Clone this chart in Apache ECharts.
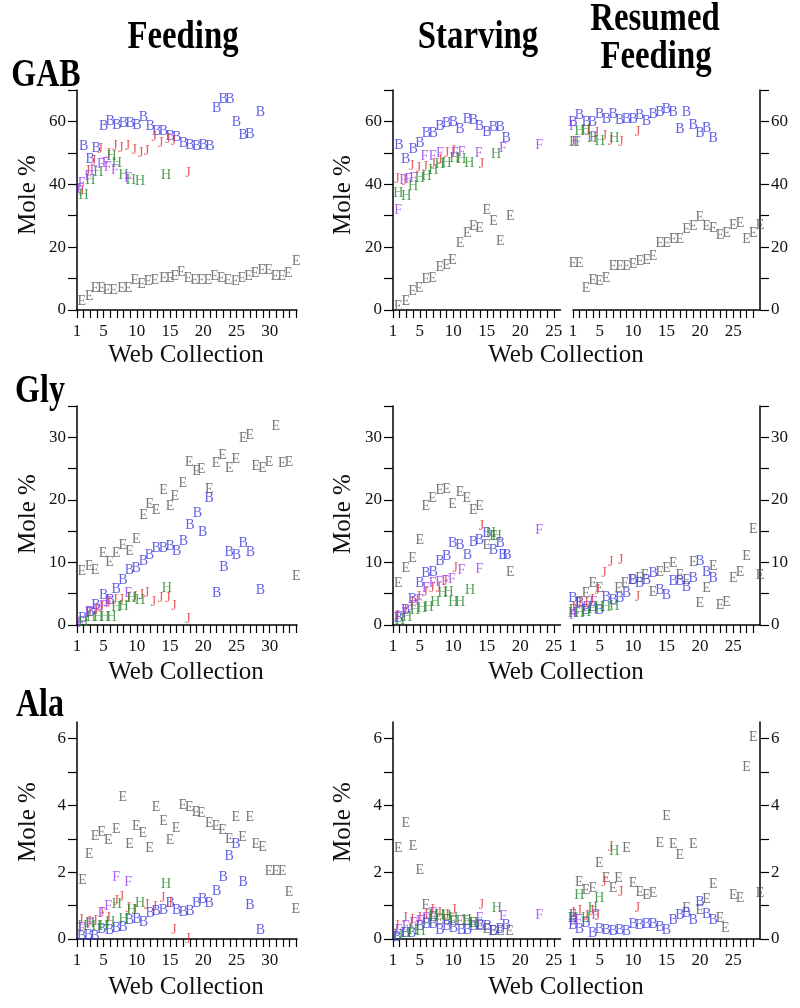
<!DOCTYPE html>
<html>
<head>
<meta charset="utf-8">
<script src="https://cdn.jsdelivr.net/npm/echarts@6/dist/echarts.min.js"></script>
<style>
html, body { margin: 0; padding: 0; background: #fff; }
#chart { width: 800px; height: 1008px; }
</style>
</head>
<body>
<div id="chart"></div>
<script>
// ---- axis labels ----
const feedXLabels = [1, 5, 10, 15, 20, 25, 30]
const starvXLabels = [1, 5, 10, 15, 20, 25]
const resXLabels = [1, 5, 10, 15, 20, 25]
const gabYLabels = [0, 20, 40, 60]
const glyYLabels = [0, 10, 20, 30]
const alaYLabels = [0, 2, 4, 6]
const gabYTicks = [0, 10, 20, 30, 40, 50, 60, 70]
const glyYTicks = [0, 5, 10, 15, 20, 25, 30, 35]
const alaYTicks = [0, 1, 2, 3, 4, 5, 6]

// ---- GAB ----
const feedGabE = [[1.7,2.7],[2.85,4.2],[3.7,6.9],[4.7,6.9],[5.5,6.2],[6.5,6.2],[7.7,6.9],[8.7,6.9],[9.7,9.6],[10.7,8.3],[11.7,9.2],[12.7,9.6],[14,10.1],[15,10.1],[15.7,10.6],[16.7,11.9],[17.7,10.1],[18.7,9.6],[19.7,9.6],[20.7,9.6],[21.7,10.6],[22.7,10.1],[23.7,9.6],[24.8,9],[25.8,10.1],[26.8,10.6],[27.8,11.7],[28.8,12.7],[29.8,12.7],[30.8,10.6],[31.8,10.6],[32.8,11.7],[34,15.4]]
const feedGabB = [[2,52],[3,48.1],[3.9,51.5],[5,58.4],[6,60],[7,58.9],[8,59.4],[9,59.4],[10,58.9],[11,61.3],[12,58.6],[13,56.8],[14,56.8],[15,55.2],[16,55],[17,53],[18,52.5],[19,52],[20,52.3],[21,52],[22,64.2],[23,67],[24,67],[25,59.7],[26,55.7],[27,56],[28.6,63]]
const feedGabJ = [[1.7,37.7],[2.6,44],[3.5,47.2],[4.5,51],[5.7,49.4],[6.7,52.2],[7.6,51.6],[8.6,52],[9.6,50.8],[10.6,49.7],[11.5,50.4],[12.6,55],[13.6,53],[14.7,54.3],[15.5,53.6],[17.7,43.5]]
const feedGabH = [[2,36.6],[3,41.3],[4.2,43.8],[6.2,48.9],[7,46.7],[8,42.8],[9.1,41.4],[10.5,40.9],[14.4,42.8]]
const feedGabF = [[1.5,38.5],[1.7,40.3],[2.7,42.5],[3.5,44.2],[4.6,46.3],[5.3,46.8],[5.6,45.4],[6.7,44.6],[8.7,41.9]]

const starvGabE = [[1.8,1.3],[2.9,2.7],[3.9,5.8],[4.9,6.9],[5.9,9.8],[6.9,10.1],[8,13.6],[9,14.3],[9.9,15.7],[11,21.2],[12.1,24.4],[13,26.5],[13.9,26],[15,31.6],[16,28.1],[17,21.8],[18.5,29.7]]
const starvGabB = [[1.9,52.5],[2.9,48.1],[4,51],[5,52.9],[6,56.3],[7,56.3],[8,58.4],[9,59.4],[10,59.7],[11,57.5],[12.1,60.7],[13,60.3],[13.9,58.4],[15,56.5],[16,58.1],[17,58.1],[17.9,54.7]]
const starvGabJ = [[1.6,41.5],[2.7,41],[3.8,45.8],[4.8,45.1],[5.8,45.4],[7,46.5],[8,47.5],[9,50],[10,50.5],[14.2,46.4]]
const starvGabH = [[1.8,37.2],[3,36.3],[4,39.3],[5,42],[6,42.5],[7,44.6],[8,46.2],[9,46.7],[10.2,48.3],[11.2,47.8],[12.4,46.7],[16.4,49.4]]
const starvGabF = [[1.75,31.8],[2.5,41.2],[3.3,41.5],[4,42],[5.7,48.9],[6.9,49],[8,50],[10.2,50],[11.2,50.1],[13.8,49.9],[17.4,51.5],[22.8,52.5]]

const resGabE = [[1,14.9],[1.95,14.9],[2.95,6.9],[3.95,9.6],[4.95,9],[5.95,10.1],[7,13.8],[8,13.8],[9,13.8],[10,14.6],[11,15.4],[12,15.9],[13,17],[14,21.2],[15,21.2],[16,22.5],[17,22.5],[18,25.7],[19,26.5],[20,29.5],[21,26.5],[22,26],[23,23.9],[24,24.4],[25,26.8],[26,27.6],[27,22.5],[28,24.4],[29,26.8]]
const resGabB = [[1,59.7],[1.95,62.1],[3,59.7],[3.9,59.7],[5,62.4],[6,60.7],[7,62.4],[8,60.5],[9,60.7],[10,60.7],[11,62.1],[12,60],[13,62.4],[14,63],[15,63.9],[16,63],[17,57.5],[18,63],[19,58.9],[20,56.3],[21,57.9],[22,54.7]]
const resGabJ = [[1,53.3],[3.2,56.8],[4.5,56.3],[5.7,55.4],[6.6,53.6],[8.2,53.3],[10.7,56.6]]
const resGabH = [[1.2,53.3],[2,56.8],[3,57.3],[3.9,54.7],[5,53.6],[7.2,54.7]]
const resGabF = [[1,58.5],[1.6,53.3],[4,54.8]]

// ---- Gly ----
const feedGlyE = [[1.7,8.6],[2.85,9.3],[3.7,8.7],[4.9,11.5],[5.9,10],[6.9,11.5],[7.9,12.8],[8.9,11.8],[9.9,13.7],[11,17.5],[11.9,19.3],[12.9,18.3],[14,21.6],[15,19],[15.7,20.5],[16.9,22.7],[17.9,26],[19,24.6],[19.7,24.9],[20.9,21.7],[21.9,25.8],[22.9,27.1],[23.9,25],[24.9,26.5],[26,29.9],[27,30.3],[27.9,25.3],[28.9,25.1],[29.9,26],[30.9,31.8],[31.9,25.8],[32.9,26],[34,7.8]]
const feedGlyB = [[1.85,1.1],[2.95,2.1],[3.85,3.2],[5,4.8],[6,4],[6.9,5.7],[7.9,7.2],[8.9,8.8],[9.9,9.1],[11,10.2],[11.9,11.2],[12.9,12.3],[14,12.3],[15,12.6],[16,11.8],[17,13.3],[18,16],[19.1,17.8],[19.9,14.8],[20.9,20.2],[22,5.1],[23.1,9.2],[23.9,11.6],[25,11.1],[26,13],[27.1,11.6],[28.6,5.5]]
const feedGlyJ = [[2.85,1.9],[3.85,2.4],[4.7,2.9],[5.7,3.5],[6.7,3.9],[7.7,4],[8.7,4.3],[9.7,4.5],[10.7,4.7],[11.5,5.1],[12.5,3.7],[13.6,4.3],[14.7,4.3],[15.6,3],[17.7,0.9]]
const feedGlyH = [[1.95,0.5],[3.1,1.2],[4.2,1.2],[5.2,1.2],[6.2,1.3],[6.9,2.9],[8,3],[9.2,4.3],[10.5,4],[14.5,5.9]]
const feedGlyF = [[1.5,0.3],[2.7,1.9],[3.95,2.4],[4.9,3],[5.7,3.7],[8.7,5.1]]

const starvGlyE = [[1.8,6.7],[2.9,9.1],[3.9,10.7],[5,13.5],[5.9,19],[6.9,20.3],[8,21.6],[9,21.7],[9.9,19.3],[11,21.2],[12,20.3],[13,18.3],[13.9,19],[15,12.8],[16,14.2],[18.5,8.4]]
const starvGlyB = [[1.8,1.1],[2.9,2.4],[3.9,4.1],[5,6.6],[5.9,8.3],[7,8.4],[8,10.2],[9,11],[9.9,13],[11,12.7],[12.1,11.1],[13,13.2],[13.9,13.5],[15,14.7],[16,11.9],[17,13.1],[17.4,11.2],[18,11.2]]
const starvGlyJ = [[1.6,1.4],[2.8,2.4],[3.8,3.7],[4.8,4.5],[5.8,5.3],[6.8,5.9],[7.8,5.9],[8.8,7],[10.3,9.1],[14.2,15.8]]
const starvGlyH = [[2,0.8],[3.1,1.2],[4.3,2.4],[5.3,2.7],[6.3,2.9],[7.3,3.6],[8.4,5.1],[9.3,5.3],[10,3.6],[11,3.6],[12.5,5.5],[15.6,14.6],[16.5,14.2]]
const starvGlyF = [[1.8,1.2],[2.9,1.9],[4,3],[4.9,4],[5.9,5.9],[6.9,6.6],[7.9,6.8],[8.8,7],[9.8,7.3],[11.2,8.7],[13.9,8.9],[22.8,15.2]]

const resGlyE = [[1,2.4],[1.95,3.7],[2.95,5.1],[3.95,6.6],[4.95,5.9],[7.8,5.9],[8.8,6.7],[9.8,7.2],[10.95,7.5],[11.8,8],[13,5.3],[14,8.4],[15,9.1],[16,9.9],[17,8],[18,7.2],[19,10],[20,3.4],[21,5.9],[22,9.4],[23,3.2],[24,3.6],[25,7.5],[26,8.4],[27,11],[28,15.3],[29,7.9]]
const resGlyB = [[1,4.3],[2,3.5],[2.95,2.4],[3.95,2.9],[4.95,2.4],[5.95,4.5],[7,4],[8,4.3],[9,5.1],[10,7.2],[11,6.7],[12,7.2],[13,8.3],[14,5.6],[15,4.8],[16,7],[17,7],[18,6.1],[19,7.5],[20,10.2],[21,8.4],[22,7.5]]
const resGlyJ = [[1,2.7],[1.95,3.4],[2.95,3.4],[3.8,4],[4.65,5.6],[5.65,8.2],[6.65,10],[8.15,10.3],[10.65,4.5]]
const resGlyH = [[1,1.9],[2,1.9],[2.95,2.1],[3.95,2.5],[4.95,2.9],[5.95,2.9],[7.2,3]]
const resGlyF = [[1,1.6],[1.5,1.9],[3,2.9],[4,3.7]]

// ---- Ala ----
const feedAlaE = [[1.85,1.76],[2.85,2.54],[3.7,3.07],[4.7,3.2],[5.7,2.96],[6.9,3.3],[7.9,4.23],[8.9,2.84],[9.9,3.37],[10.9,3.17],[11.9,2.71],[12.9,3.95],[14,3.53],[15,2.96],[15.9,3.33],[16.9,4],[17.9,3.95],[18.9,3.8],[19.7,3.77],[20.9,3.45],[21.9,3.37],[22.9,3.27],[23.9,2.98],[24.9,3.65],[25.9,3.05],[27,3.63],[27.9,2.84],[28.9,2.76],[29.9,2.04],[30.9,2.04],[31.9,2.04],[32.9,1.41],[33.9,0.89]]
const feedAlaB = [[1.7,0.07],[2.7,0.12],[3.7,0.09],[4.7,0.29],[5.9,0.27],[6.9,0.32],[7.9,0.35],[8.9,0.55],[10,0.59],[11,0.49],[12,0.77],[12.9,0.82],[14,0.85],[15,1.08],[16,0.85],[17,0.79],[18,0.82],[19,1.06],[19.9,1.18],[20.9,1.08],[22,1.44],[23,1.86],[23.9,2.48],[24.9,2.84],[26,1.71],[27,1.01],[28.6,0.27]]
const feedAlaJ = [[1.6,0.55],[2.85,0.49],[3.7,0.52],[4.7,0.77],[5.7,0.62],[6.9,1.14],[7.7,1.24],[8.7,0.92],[9.7,0.85],[11.5,1.01],[12.7,0.95],[13.9,1.21],[15,1.06],[15.6,0.27],[17.7,0]]
const feedAlaH = [[1.85,0.37],[2.95,0.47],[3.95,0.37],[5,0.37],[6,0.49],[7,1.04],[8,0.59],[9.2,0.87],[10.5,1.06],[14.4,1.64]]
const feedAlaF = [[1.7,0.32],[2.85,0.45],[4.7,0.77],[5.7,0.97],[6.9,1.86],[8.7,1.71]]

const starvAlaE = [[1.8,2.71],[2.9,3.45],[4,2.78],[5,2.06],[5.9,1.01],[7,0.65],[7.9,0.57],[9,0.57],[10,0.52],[11,0.52],[12,0.52],[13,0.47],[14,0.39],[15,0.29],[15.9,0.22],[17,0.22],[18.4,0.22]]
const starvAlaB = [[1.6,0.05],[2.8,0.17],[3.8,0.17],[5,0.37],[6,0.45],[7,0.45],[8,0.27],[9,0.37],[10,0.32],[11.2,0.27],[12.1,0.27],[13,0.37],[14,0.42],[15.1,0.37],[16,0.22],[17,0.29],[17.9,0.42]]
const starvAlaJ = [[1.6,0.39],[2.8,0.62],[3.8,0.55],[4.9,0.62],[5.9,0.72],[6.8,0.85],[7.9,0.77],[9,0.72],[10.1,0.87],[14.2,1.01]]
const starvAlaH = [[1.8,0.12],[3,0.17],[4,0.27],[5.1,0.22],[6.1,0.57],[7,0.72],[8,0.72],[9,0.67],[10,0.62],[12,0.57],[13,0.47],[16.5,0.92]]
const starvAlaF = [[1.8,0.27],[2.9,0.37],[4,0.47],[5,0.52],[5.9,0.62],[7,0.77],[13.9,0.62],[17.4,0.69],[22.8,0.72]]

const resAlaE = [[1,0.72],[1.95,1.71],[2.95,1.46],[3.95,1.51],[4.95,2.28],[5.95,1.81],[7,1.51],[7.8,1.81],[9,2.71],[10,1.66],[11,1.41],[12,1.31],[13,1.36],[14,2.88],[15,3.67],[16,2.84],[17,2.51],[18,0.92],[19,2.84],[20,0.87],[21,1.18],[22,1.64],[23,0.62],[23.8,0.32],[25,1.31],[26,1.21],[27,5.14],[28,6.04],[29,1.36]]
const resAlaB = [[1,0.62],[1,0.4],[1.95,0.29],[2.95,0.47],[3.95,0.17],[4.95,0.29],[5.95,0.27],[7,0.22],[8,0.25],[9,0.22],[10,0.45],[11,0.42],[12,0.45],[13,0.45],[14,0.35],[15,0.27],[16,0.57],[17,0.72],[18,0.77],[19,0.57],[20,1.11],[21,0.75],[22,0.57]]
const resAlaJ = [[1,0.77],[1.95,0.82],[3,0.67],[3.8,0.82],[4.65,0.67],[5.65,1.71],[6.65,2.76],[8.15,1.41],[10.65,0.92]]
const resAlaH = [[1,0.62],[1.95,1.31],[2.95,0.62],[3.95,0.92],[4.95,1.21],[7.2,2.64]]
const resAlaF = [[1,0.52],[1.8,0.57],[4.3,0.72]]

const letterColors = { E: '#555555', B: '#3a3ae0', J: '#e4373a', H: '#24882a', F: '#9a3cf0' }
const serif = "'Liberation Serif', 'Times New Roman', serif"

const range = (a, b) => { const r = []; for (let i = a; i <= b; i++) r.push(i); return r }

const cols = [
  { left: 77, width: 220, max: 34.1, labels: feedXLabels, ticks: range(1, 34), yPos: 'left' },
  { left: 393, width: 167.5, max: 26, labels: starvXLabels, ticks: range(1, 25), yPos: 'left' },
  { left: 573, width: 187, max: 29, labels: resXLabels, ticks: range(1, 28), yPos: 'right' }
]
const rows = [
  { top: 90, height: 220, max: 70, labels: gabYLabels, ticks: gabYTicks },
  { top: 406, height: 219, max: 35, labels: glyYLabels, ticks: glyYTicks },
  { top: 722, height: 217, max: 6.5, labels: alaYLabels, ticks: alaYTicks }
]
const panelData = [
  [
    { E: feedGabE, B: feedGabB, J: feedGabJ, H: feedGabH, F: feedGabF },
    { E: starvGabE, B: starvGabB, J: starvGabJ, H: starvGabH, F: starvGabF },
    { E: resGabE, B: resGabB, J: resGabJ, H: resGabH, F: resGabF }
  ],
  [
    { E: feedGlyE, B: feedGlyB, J: feedGlyJ, H: feedGlyH, F: feedGlyF },
    { E: starvGlyE, B: starvGlyB, J: starvGlyJ, H: starvGlyH, F: starvGlyF },
    { E: resGlyE, B: resGlyB, J: resGlyJ, H: resGlyH, F: resGlyF }
  ],
  [
    { E: feedAlaE, B: feedAlaB, J: feedAlaJ, H: feedAlaH, F: feedAlaF },
    { E: starvAlaE, B: starvAlaB, J: starvAlaJ, H: starvAlaH, F: starvAlaF },
    { E: resAlaE, B: resAlaB, J: resAlaJ, H: resAlaH, F: resAlaF }
  ]
]

const grid = [], xAxis = [], yAxis = [], series = []
const axisText = { color: '#111', fontFamily: serif, fontSize: 17 }

rows.forEach((row, r) => {
  cols.forEach((col, c) => {
    const idx = grid.length
    grid.push({ left: col.left, top: row.top, width: col.width, height: row.height })
    xAxis.push({
      type: 'value', gridIndex: idx, min: 1, max: col.max,
      splitLine: { show: false },
      axisLine: { onZero: false, lineStyle: { color: '#000', width: 1.5 } },
      axisTick: { customValues: col.ticks, length: 8, lineStyle: { color: '#000', width: 1.2 } },
      axisLabel: { customValues: col.labels, margin: 13, ...axisText }
    })
    yAxis.push({
      type: 'value', gridIndex: idx, min: 0, max: row.max, position: col.yPos,
      splitLine: { show: false },
      axisLine: { show: true, onZero: false, lineStyle: { color: '#000', width: 1.5 } },
      axisTick: { customValues: row.ticks, length: 9, lineStyle: { color: '#000', width: 1.2 } },
      axisLabel: { customValues: row.labels, margin: 11, ...axisText }
    })
    const d = panelData[r][c]
    ;['E', 'B', 'J', 'H', 'F'].forEach(L => {
      series.push({
        type: 'scatter', xAxisIndex: idx, yAxisIndex: idx,
        data: d[L], symbol: 'rect', symbolSize: 1, clip: false, silent: true,
        itemStyle: { color: 'rgba(0,0,0,0)' },
        label: {
          show: true, position: 'inside', formatter: L,
          color: letterColors[L], fontFamily: serif, fontSize: 14
        }
      })
    })
  })
})

// titles: condensed bold, like the original figure
const titleFont = `bold 40px ${serif}`
const bigLabel = (text, x, y, sx) => ({
  type: 'text', x, y, scaleX: sx,
  style: { text, font: titleFont, fill: '#000', align: 'center', verticalAlign: 'middle' }
})
const nameFont = `25px ${serif}`
const graphic = [
  bigLabel('Feeding', 183, 38, 0.82),
  bigLabel('Starving', 478, 38, 0.82),
  bigLabel('Resumed', 655, 20, 0.82),
  bigLabel('Feeding', 656, 58, 0.82),
  bigLabel('GAB', 46, 76, 0.8),
  bigLabel('Gly', 40, 392, 0.8),
  bigLabel('Ala', 40, 706, 0.8)
]
const nameY = [355, 672, 987]
const moleY = [195, 514, 822]
nameY.forEach(y => {
  graphic.push({ type: 'text', x: 186, y, style: { text: 'Web Collection', font: nameFont, fill: '#111', align: 'center', verticalAlign: 'middle' } })
  graphic.push({ type: 'text', x: 566, y, style: { text: 'Web Collection', font: nameFont, fill: '#111', align: 'center', verticalAlign: 'middle' } })
})
moleY.forEach(y => {
  ;[28, 343].forEach(x => {
    graphic.push({ type: 'text', x, y, rotation: Math.PI / 2,
      style: { text: 'Mole %', font: nameFont, fill: '#111', align: 'center', verticalAlign: 'middle' } })
  })
})

const chart = echarts.init(document.getElementById('chart'))
chart.setOption({
  animation: false,
  backgroundColor: '#fff',
  grid, xAxis, yAxis, series, graphic
})
</script>
</body>
</html>
